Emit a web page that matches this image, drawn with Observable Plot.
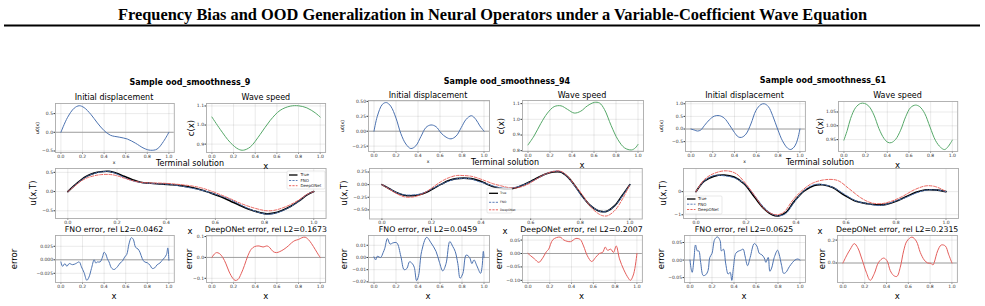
<!DOCTYPE html>
<html><head><meta charset="utf-8">
<script src="https://cdn.jsdelivr.net/npm/d3@7"></script>
<script src="https://cdn.jsdelivr.net/npm/@observablehq/plot@0.6"></script>
<style>
body{margin:0;background:#fff;}
#root{position:relative;width:985px;height:306px;overflow:hidden;font-family:"DejaVu Sans",sans-serif;background:#fff;}
.t{position:absolute;white-space:nowrap;transform:translate(-50%,-50%);line-height:1;color:#000;}
.r{transform:translate(-50%,-50%) rotate(-90deg);}
.w{position:absolute;}
</style></head><body><div id="root"></div><script>
// ---------------- text ----------------
const mainTitle = "Frequency Bias and OOD Generalization in Neural Operators under a Variable-Coefficient Wave Equation";
const sampleTitles = ["Sample ood_smoothness_9", "Sample ood_smoothness_94", "Sample ood_smoothness_61"];
const fnoTitles = ["FNO error, rel L2=0.0462", "FNO error, rel L2=0.0459", "FNO error, rel L2=0.0625"];
const donTitles = ["DeepONet error, rel L2=0.1673", "DeepONet error, rel L2=0.2007", "DeepONet error, rel L2=0.2315"];
const legendLabels = ["True", "FNO", "DeepONet"];
const xTicks = [0, 0.2, 0.4, 0.6, 0.8, 1.0];

// ---------------- panel 1 (ood_smoothness_9) ----------------
const p1_u0 = [[0,0],[0.06,0.39],[0.123,0.645],[0.17,0.71],[0.215,0.66],[0.277,0.48],[0.338,0.25],[0.4,0.045],[0.46,-0.08],[0.54,-0.13],[0.615,-0.18],[0.69,-0.29],[0.77,-0.43],[0.83,-0.48],[0.89,-0.45],[0.95,-0.245],[1,0]];
const p1_c = [[0,1.042],[0.077,0.977],[0.17,0.908],[0.246,0.873],[0.29,0.868],[0.354,0.885],[0.446,0.951],[0.538,1.024],[0.63,1.077],[0.723,1.099],[0.8,1.101],[0.877,1.09],[0.954,1.064],[1,1.042]];
const p1_xT = [0,0.026,0.053,0.08,0.107,0.134,0.168,0.195,0.229,0.263,0.296,0.337,0.378,0.418,0.459,0.5,0.54,0.58,0.62,0.662,0.7,0.743,0.783,0.81,0.837,0.871,0.905,0.939,0.973,1.0];
const p1_true = [0,0.155,0.30,0.41,0.48,0.517,0.526,0.483,0.397,0.31,0.24,0.215,0.198,0.18,0.155,0.11,0.05,-0.034,-0.13,-0.25,-0.36,-0.474,-0.55,-0.58,-0.56,-0.49,-0.39,-0.25,-0.086,0];
const p1_fno = [-0.004,0.145,0.288,0.403,0.471,0.51,0.522,0.469,0.367,0.28,0.237,0.211,0.2,0.185,0.145,0.093,0.042,-0.032,-0.11,-0.21,-0.338,-0.466,-0.554,-0.587,-0.574,-0.505,-0.397,-0.251,-0.078,0];
const p1_don = [0,0.13,0.27,0.36,0.41,0.44,0.445,0.42,0.35,0.285,0.24,0.225,0.22,0.205,0.18,0.15,0.1,0.02,-0.08,-0.19,-0.30,-0.40,-0.47,-0.5,-0.49,-0.43,-0.34,-0.22,-0.07,0];
const p1_fnoErr = [[0,-0.004],[0.015,-0.012],[0.037,-0.007],[0.055,-0.012],[0.077,-0.007],[0.108,-0.009],[0.138,-0.007],[0.17,-0.004],[0.19,-0.013],[0.215,-0.024],[0.24,-0.038],[0.26,-0.032],[0.283,-0.016],[0.308,0],[0.323,-0.006],[0.338,-0.004],[0.363,-0.004],[0.385,0.005],[0.4,0.014],[0.415,0.011],[0.43,0.002],[0.446,-0.004],[0.468,-0.015],[0.492,-0.018],[0.523,-0.013],[0.548,-0.006],[0.57,-0.0024],[0.59,0.005],[0.61,0.01],[0.63,0.029],[0.652,0.041],[0.67,0.038],[0.692,0.023],[0.714,0.02],[0.732,0.014],[0.754,0.002],[0.775,-0.004],[0.8,-0.0055],[0.825,-0.01],[0.846,-0.016],[0.868,-0.015],[0.892,-0.009],[0.917,-0.006],[0.938,-0.001],[0.96,0.004],[0.978,0.01],[0.99,0.022],[1,-0.001]];
const p1_donErr = [[0,0],[0.022,0.016],[0.043,0.023],[0.068,0.019],[0.1,0],[0.13,-0.031],[0.16,-0.07],[0.193,-0.1],[0.214,-0.11],[0.24,-0.106],[0.27,-0.078],[0.3,-0.039],[0.332,0.008],[0.363,0.039],[0.394,0.052],[0.435,0.055],[0.472,0.05],[0.51,0.055],[0.534,0.047],[0.565,0.028],[0.596,0.023],[0.627,0.028],[0.665,0.039],[0.705,0.055],[0.736,0.07],[0.767,0.081],[0.8,0.086],[0.83,0.094],[0.86,0.097],[0.89,0.086],[0.92,0.066],[0.953,0.039],[0.984,0.0125],[1,0]];

// ---------------- panel 2 (ood_smoothness_94) ----------------
const p2_u0 = [[0,0],[0.03,0.25],[0.076,0.45],[0.113,0.48],[0.152,0.42],[0.2,0.22],[0.244,-0.04],[0.29,-0.215],[0.335,-0.29],[0.38,-0.245],[0.427,-0.087],[0.473,0.064],[0.518,0.105],[0.564,0.076],[0.61,-0.03],[0.655,-0.1],[0.7,-0.128],[0.747,-0.08],[0.793,0.06],[0.838,0.2],[0.885,0.26],[0.925,0.2],[0.962,0.09],[1,0]];
const p2_c = [[0,0.837],[0.055,0.894],[0.116,0.973],[0.177,1.04],[0.238,1.081],[0.3,1.086],[0.36,1.063],[0.42,1.04],[0.48,1.052],[0.54,1.086],[0.604,1.108],[0.65,1.104],[0.695,1.063],[0.756,0.96],[0.817,0.871],[0.878,0.818],[0.94,0.805],[0.976,0.818],[1,0.84]];
const p2_xT = [0,0.03,0.06,0.09,0.12,0.15,0.18,0.21,0.24,0.27,0.30,0.33,0.36,0.39,0.42,0.45,0.48,0.51,0.54,0.57,0.60,0.63,0.66,0.69,0.72,0.75,0.78,0.81,0.84,0.87,0.89,0.91,0.94,0.97,1.0];
const p2_true = [0,-0.08,-0.16,-0.21,-0.22,-0.2,-0.15,-0.07,0.01,0.08,0.12,0.13,0.12,0.08,0.02,-0.04,-0.075,-0.085,-0.06,-0.005,0.065,0.14,0.21,0.25,0.25,0.15,-0.03,-0.24,-0.41,-0.51,-0.535,-0.52,-0.41,-0.21,0];
const p2_fno = [0,-0.079,-0.16,-0.201,-0.205,-0.189,-0.138,-0.062,0.01,0.07,0.115,0.126,0.112,0.061,0.02,-0.03,-0.059,-0.072,-0.051,-0.005,0.057,0.13,0.21,0.263,0.259,0.147,-0.047,-0.252,-0.408,-0.51,-0.54,-0.522,-0.417,-0.223,0];
const p2_don = [0,-0.09,-0.18,-0.24,-0.247,-0.21,-0.138,-0.035,0.065,0.138,0.18,0.18,0.166,0.124,0.07,0.016,-0.023,-0.057,-0.065,-0.03,0.04,0.132,0.212,0.26,0.268,0.162,-0.024,-0.212,-0.43,-0.565,-0.615,-0.615,-0.508,-0.286,0];
const p2_fnoErr = [[0,0.0005],[0.015,-0.002],[0.03,0.001],[0.06,0],[0.083,0.004],[0.098,0.0075],[0.122,0.0155],[0.146,0.011],[0.174,0.012],[0.207,0.012],[0.244,0.001],[0.274,-0.01],[0.299,-0.009],[0.323,-0.0035],[0.348,-0.005],[0.366,-0.008],[0.387,-0.019],[0.405,-0.015],[0.433,0.005],[0.479,0.0165],[0.518,0.012],[0.564,0.005],[0.595,-0.004],[0.625,-0.011],[0.655,-0.005],[0.689,0.013],[0.716,0.009],[0.738,0.005],[0.762,-0.005],[0.783,-0.017],[0.808,-0.013],[0.838,0.002],[0.869,0],[0.89,-0.005],[0.909,-0.002],[0.936,-0.007],[0.969,-0.013],[0.982,-0.008],[0.994,0.005],[1,0]];
const p2_donErr = [[0,0],[0.025,-0.0085],[0.06,-0.02],[0.1,-0.033],[0.13,-0.02],[0.17,0.007],[0.19,0.016],[0.23,0.052],[0.295,0.061],[0.33,0.05],[0.39,0.044],[0.44,0.056],[0.48,0.052],[0.51,0.028],[0.545,-0.0085],[0.585,-0.03],[0.62,-0.015],[0.655,0],[0.685,0.004],[0.71,0.024],[0.73,0.012],[0.76,0.016],[0.785,0.004],[0.81,0.028],[0.84,-0.02],[0.88,-0.061],[0.92,-0.091],[0.94,-0.1],[0.97,-0.076],[1,0]];

// ---------------- panel 3 (ood_smoothness_61) ----------------
const p3_u0 = [[0,0],[0.03,-0.04],[0.06,-0.08],[0.09,-0.04],[0.122,0.13],[0.168,0.36],[0.214,0.51],[0.26,0.53],[0.306,0.43],[0.352,0.17],[0.398,-0.13],[0.434,-0.31],[0.465,-0.33],[0.505,-0.2],[0.55,0.2],[0.596,0.73],[0.642,0.97],[0.673,1.0],[0.71,0.89],[0.75,0.53],[0.795,0],[0.84,-0.47],[0.887,-0.76],[0.917,-0.81],[0.954,-0.67],[0.979,-0.4],[1,0]];
const p3_c = [[0,0.948],[0.031,0.984],[0.062,1.027],[0.108,1.066],[0.154,1.081],[0.19,1.081],[0.23,1.071],[0.277,1.039],[0.323,0.99],[0.37,0.954],[0.406,0.94],[0.437,0.939],[0.477,0.951],[0.523,0.984],[0.57,1.033],[0.615,1.066],[0.66,1.075],[0.7,1.069],[0.745,1.045],[0.794,0.996],[0.846,0.946],[0.892,0.922],[0.929,0.914],[0.96,0.924],[1,0.948]];
const p3_xT = [0,0.033,0.073,0.113,0.153,0.193,0.233,0.273,0.307,0.333,0.36,0.393,0.433,0.473,0.507,0.547,0.593,0.64,0.687,0.727,0.76,0.8,0.84,0.88,0.92,0.953,0.98,1.0];
const p3_true = [0,0.45,0.67,0.72,0.63,0.33,-0.22,-0.75,-1.01,-1.04,-0.9,-0.42,0.03,0.27,0.30,0.18,-0.15,-0.42,-0.52,-0.57,-0.55,-0.42,-0.22,-0.03,0.075,0.075,0.045,0];
const p3_fno = [0,0.46,0.696,0.685,0.595,0.35,-0.158,-0.695,-0.98,-1.045,-0.935,-0.45,0.055,0.3,0.305,0.187,-0.105,-0.402,-0.52,-0.6,-0.55,-0.395,-0.25,-0.06,0.065,0.075,0.048,0];
const p3_xD = [0,0.033,0.073,0.12,0.16,0.2,0.233,0.273,0.307,0.327,0.353,0.387,0.427,0.467,0.52,0.567,0.613,0.66,0.7,0.74,0.78,0.827,0.873,0.92,0.953,0.98,1.0];
const p3_don = [0,0.52,0.79,0.9,0.78,0.33,-0.15,-0.75,-0.97,-1.0,-0.87,-0.37,0.075,0.37,0.52,0.48,0.12,-0.27,-0.48,-0.52,-0.42,-0.2,0.08,0.25,0.23,0.12,0];
const p3_fnoErr = [[0,0],[0.012,-0.028],[0.02,-0.035],[0.036,0.003],[0.05,0.043],[0.067,0.026],[0.08,0.026],[0.097,-0.007],[0.12,-0.044],[0.143,-0.042],[0.164,-0.03],[0.18,0.0075],[0.2,0.019],[0.225,0.059],[0.25,0.066],[0.274,0.055],[0.286,0.026],[0.304,0.031],[0.325,-0.011],[0.347,-0.04],[0.365,-0.035],[0.38,-0.058],[0.395,-0.021],[0.416,0.019],[0.438,0.025],[0.462,0.028],[0.483,0.031],[0.5,0.012],[0.523,-0.016],[0.547,0.0075],[0.584,0.047],[0.608,0.04],[0.63,0.019],[0.653,0.015],[0.675,0.006],[0.69,-0.0066],[0.711,0.0075],[0.726,-0.032],[0.742,-0.023],[0.766,0.0075],[0.796,0.028],[0.81,0.017],[0.833,-0.016],[0.851,-0.038],[0.872,-0.035],[0.903,-0.019],[0.933,-0.0066],[0.954,0],[0.979,0.003],[1,0]];
const p3_donErr = [[0,0],[0.037,0.071],[0.067,0.12],[0.104,0.169],[0.135,0.134],[0.174,0.034],[0.214,-0.08],[0.25,-0.151],[0.287,-0.094],[0.327,0.006],[0.373,0.043],[0.404,0.02],[0.434,-0.066],[0.465,-0.109],[0.495,-0.117],[0.526,-0.037],[0.557,0.106],[0.587,0.191],[0.633,0.226],[0.673,0.191],[0.71,0.091],[0.746,0.026],[0.777,0],[0.807,-0.003],[0.826,-0.017],[0.838,0.006],[0.869,0.106],[0.902,0.157],[0.939,0.149],[0.969,0.077],[1,0]];

// ---------------- drawing ----------------
const root = document.getElementById("root");
const C = {u0:"#4c72b0", c:"#55a868", fno:"#4c72b0", don:"#e8554e", derr:"#e35d5a", true:"#000"};
const zip = (xs, ys) => xs.map((x, i) => [x, ys[i]]);

function txt(s, x, y, size, o = {}) {
  const d = document.createElement("div");
  d.className = "t" + (o.rot ? " r" : "");
  d.textContent = s;
  d.style.left = x + "px"; d.style.top = y + "px"; d.style.fontSize = size + "px";
  if (o.bold) d.style.fontWeight = "bold";
  root.appendChild(d);
}

const ML = 34, MR = 6, MT = 4, MB = 10;
function sub(g, lines, zero) {
  const span = g.x1 - g.x0;
  const left = g.x0 - 0.05 * span, right = g.x1 + 0.05 * span;
  const W = right - left, H = g.bottom - g.top;
  const marks = [];
  if (zero) marks.push(Plot.ruleY([0], {stroke: "#9a9a9a", strokeWidth: 0.9}));
  for (const L of lines) {
    marks.push(Plot.line(L.data, {x: d => d[0], y: d => d[1], stroke: L.color, strokeWidth: L.w || 1,
      strokeDasharray: L.dash, strokeOpacity: L.op || 1, curve: "catmull-rom"}));
  }
  marks.push(Plot.frame({stroke: "#aaaaaa", strokeWidth: 0.9}));
  const svg = Plot.plot({
    width: W + ML + MR, height: H + MT + MB,
    marginLeft: ML, marginRight: MR, marginTop: MT, marginBottom: MB,
    x: {domain: [-0.05, 1.05], ticks: xTicks, tickFormat: ".1f", tickSize: 1.5, tickPadding: 0.6, label: null, grid: true},
    y: {domain: g.ydom, ticks: g.yt, tickFormat: g.fmt, tickSize: 1.5, tickPadding: 1, label: null, grid: true},
    style: {fontSize: "4.5px", fontFamily: "DejaVu Sans", background: "transparent", overflow: "visible", color: "#333", maxWidth: "none"},
    marks
  });
  const w = document.createElement("div");
  w.className = "w";
  w.style.left = (left - ML) + "px"; w.style.top = (g.top - MT) + "px";
  w.appendChild(svg);
  root.appendChild(w);
  return {cx: (left + right) / 2, cy: (g.top + g.bottom) / 2};
}

function legend(L) {
  const s = d3.create("svg").attr("width", L.w + 2).attr("height", L.h + 2)
    .style("position", "absolute").style("left", (L.x - 1) + "px").style("top", (L.y - 1) + "px").style("overflow", "visible");
  s.append("rect").attr("x", 1).attr("y", 1).attr("width", L.w).attr("height", L.h).attr("rx", 1)
    .attr("fill", "white").attr("fill-opacity", 0.8).attr("stroke", "#d0d0d0").attr("stroke-width", 0.5);
  const styles = [{c: C.true, w: 1.3}, {c: C.fno, w: 0.9, d: "2.2,1.2"}, {c: C.don, w: 0.9, d: "2.2,1.2"}];
  legendLabels.forEach((name, i) => {
    const yy = L.rows[i] - L.y + 1;
    s.append("line").attr("x1", L.lx0 - L.x + 1).attr("x2", L.lx1 - L.x + 1).attr("y1", yy).attr("y2", yy)
      .attr("stroke", styles[i].c).attr("stroke-width", styles[i].w).attr("stroke-dasharray", styles[i].d || null);
    s.append("text").attr("x", L.tx - L.x + 1).attr("y", yy).attr("dy", "0.35em").attr("font-size", L.fs)
      .attr("font-family", "DejaVu Sans").attr("fill", "#222").text(name);
  });
  root.appendChild(s.node());
}

// title + rule
const ts = d3.create("svg").attr("width", 985).attr("height", 30).style("position", "absolute").style("left", "0px").style("top", "0px");
ts.append("text").attr("x", 492.5).attr("y", 20).attr("text-anchor", "middle").attr("font-family", "Liberation Serif")
  .attr("font-weight", "bold").attr("font-size", 17).attr("textLength", 749).attr("lengthAdjust", "spacingAndGlyphs").text(mainTitle);
ts.append("rect").attr("x", 4).attr("y", 24.5).attr("width", 976).attr("height", 2).attr("fill", "#000");
root.appendChild(ts.node());

const panels = [
  { u0: p1_u0, c: p1_c, T: [zip(p1_xT, p1_true), zip(p1_xT, p1_fno), zip(p1_xT, p1_don)], fe: p1_fnoErr, de: p1_donErr,
    A: {x0: 60, x1: 168, top: 103, bottom: 152, ydom: [-0.54, 0.77], yt: [-0.5, 0, 0.5], fmt: ".1f"},
    B: {x0: 211.7, x1: 320, top: 103, bottom: 152, ydom: [0.856, 1.113], yt: [0.9, 1.0, 1.1], fmt: ".1f"},
    Cc: {x0: 67, x1: 313, top: 168, bottom: 218, ydom: [-0.70, 0.60], yt: [-0.5, 0, 0.5], fmt: ".1f"},
    D: {x0: 60, x1: 168, top: 235, bottom: 282, ydom: [-0.042, 0.045], yt: [-0.025, 0, 0.025], fmt: ".3f"},
    E: {x0: 211.7, x1: 320, top: 235, bottom: 282, ydom: [-0.12, 0.105], yt: [-0.1, 0, 0.1], fmt: ".1f"},
    tY: {sample: 83.3, sub: 97.7, term: 163.5, err: 229.8},
    lab: {u0x: 38, cx: 190.5, ux: 33, e1x: 14, e2x: 188.5},
    leg: {x: 287, y: 171, w: 38, h: 18, rows: [175, 180.5, 185.7], lx0: 289, lx1: 297.5, tx: 300.5, fs: 4} },
  { u0: p2_u0, c: p2_c, T: [zip(p2_xT, p2_true), zip(p2_xT, p2_fno), zip(p2_xT, p2_don)], fe: p2_fnoErr, de: p2_donErr,
    A: {x0: 373, x1: 483, top: 100, bottom: 151, ydom: [-0.34, 0.515], yt: [-0.25, 0, 0.25, 0.5], fmt: ".2f"},
    B: {x0: 527, x1: 637, top: 100, bottom: 151, ydom: [0.795, 1.12], yt: [0.8, 0.9, 1.0, 1.1], fmt: ".1f"},
    Cc: {x0: 381, x1: 629, top: 168, bottom: 218.5, ydom: [-0.68, 0.32], yt: [-0.5, -0.25, 0, 0.25], fmt: ".2f"},
    D: {x0: 373, x1: 483, top: 235, bottom: 282, ydom: [-0.0205, 0.018], yt: [-0.02, -0.01, 0, 0.01], fmt: ".2f"},
    E: {x0: 527, x1: 636, top: 235, bottom: 282, ydom: [-0.108, 0.067], yt: [-0.1, -0.05, 0, 0.05], fmt: ".2f"},
    tY: {sample: 81.7, sub: 95.7, term: 163, err: 229.6},
    lab: {u0x: 343, cx: 500.5, ux: 344, e1x: 344, e2x: 499},
    leg: {x: 487, y: 188, w: 25, h: 25, rows: [193.3, 202.3, 209.8], lx0: 489, lx1: 498, tx: 500, fs: 3} },
  { u0: p3_u0, c: p3_c, T: [zip(p3_xT, p3_true), zip(p3_xT, p3_fno), zip(p3_xD, p3_don)], fe: p3_fnoErr, de: p3_donErr,
    A: {x0: 690, x1: 799, top: 101, bottom: 151, ydom: [-0.89, 1.09], yt: [-0.5, 0, 0.5, 1.0], fmt: ".1f"},
    B: {x0: 843.3, x1: 951.7, top: 101, bottom: 151, ydom: [0.907, 1.088], yt: [0.95, 1.0, 1.05], fmt: ".2f"},
    Cc: {x0: 695, x1: 945, top: 168, bottom: 218, ydom: [-1.16, 1.0], yt: [-1, 0], fmt: "d"},
    D: {x0: 689, x1: 799, top: 235, bottom: 282, ydom: [-0.064, 0.07], yt: [-0.05, 0, 0.05], fmt: ".2f"},
    E: {x0: 842.7, x1: 951.7, top: 235, bottom: 282, ydom: [-0.17, 0.24], yt: [0, 0.2], fmt: ".1f"},
    tY: {sample: 81, sub: 95.7, term: 163, err: 229.8},
    lab: {u0x: 662, cx: 819.5, ux: 663, e1x: 661, e2x: 821.5},
    leg: {x: 685, y: 196, w: 37, h: 18, rows: [199, 204.2, 209.5], lx0: 687, lx1: 695.5, tx: 698, fs: 4} }
];

panels.forEach((P, i) => {
  const a = sub(P.A, [{data: P.u0, color: C.u0, w: 1}], true);
  const b = sub(P.B, [{data: P.c, color: C.c, w: 1}], false);
  const c = sub(P.Cc, [
    {data: P.T[0], color: C.true, w: 1.6},
    {data: P.T[1], color: C.fno, w: 1, dash: "3,1.6"},
    {data: P.T[2], color: C.don, w: 1, dash: "3,1.6", op: 0.9}
  ], false);
  const d = sub(P.D, [{data: P.fe, color: C.u0, w: 1}], true);
  const e = sub(P.E, [{data: P.de, color: C.derr, w: 1}], true);

  txt(sampleTitles[i], (a.cx + b.cx) / 2 + (i === 0 ? 0 : 2), P.tY.sample, 8, {bold: true});
  txt("Initial displacement", a.cx, P.tY.sub, 8);
  txt("Wave speed", b.cx, P.tY.sub, 8);
  txt("u0(x)", P.lab.u0x, a.cy, 4.5, {rot: true});
  txt("x", a.cx, P.A.bottom + 11, 4.5);
  txt("c(x)", P.lab.cx, b.cy, 8.5, {rot: true});
  txt("Terminal solution", c.cx, P.tY.term, 8);
  txt("x", b.cx, P.B.bottom + 13.5, 8.5);
  txt("u(x,T)", P.lab.ux, c.cy, 8.5, {rot: true});
  txt("x", c.cx, P.Cc.bottom + 12.5, 8.5);
  txt(fnoTitles[i], d.cx, P.tY.err, 7.8);
  txt(donTitles[i], e.cx, P.tY.err, 7.8);
  txt("error", P.lab.e1x, d.cy, 8.5, {rot: true});
  txt("error", P.lab.e2x, e.cy, 8.5, {rot: true});
  txt("x", d.cx, 295.5, 8.5);
  txt("x", e.cx, 295.5, 8.5);
  legend(P.leg);
});
</script></body></html>
